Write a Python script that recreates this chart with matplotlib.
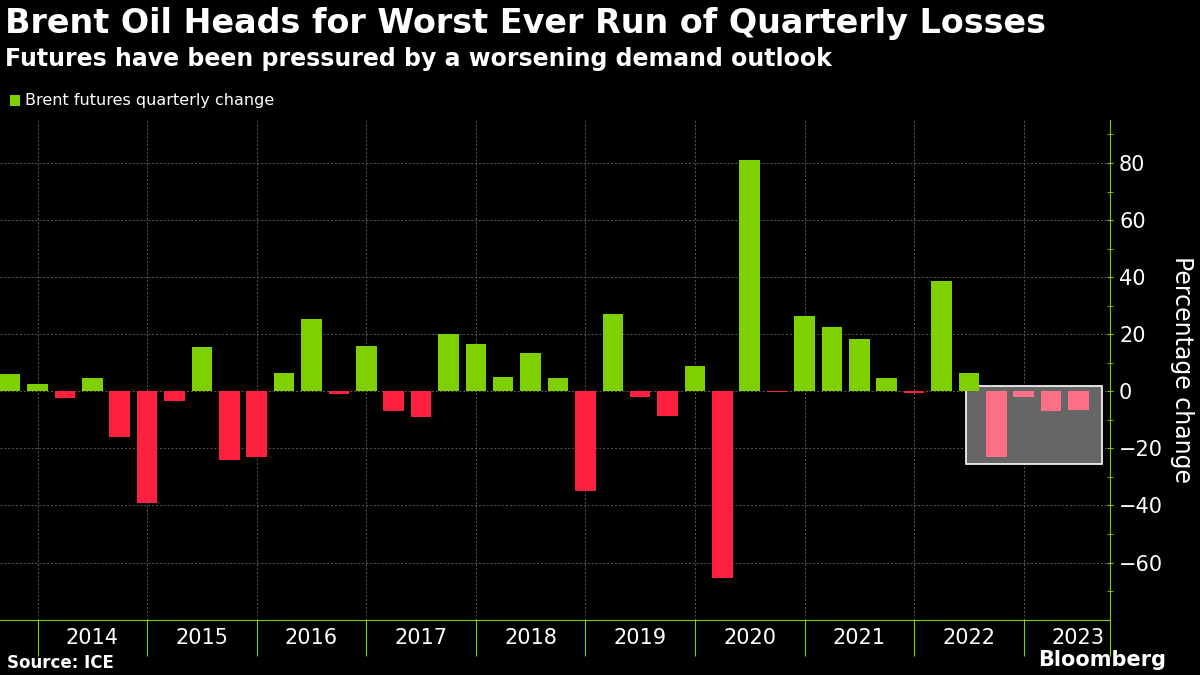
import numpy as np
from matplotlib import pyplot as plt
from matplotlib.patches import Rectangle

# quarterly change, 2013 Q3 .. 2023 Q2
values = [6, 2.5,
          -2.5, 4.5, -16, -39,
          -3.5, 15.5, -24, -23,
          6.5, 25.5, -1, 16,
          -7, -9, 20, 16.5,
          5, 13.5, 4.5, -35,
          27, -2, -8.5, 9,
          -65.5, 81, -0.3, 26.5,
          22.5, 18.5, 4.5, -0.7,
          38.5, 6.5, -23, -2,
          -7, -6.5]
years = [str(y) for y in range(2014, 2024)]
n_highlight = 4

GREEN = '#7ed000'
RED = '#ff2040'
PINK = '#ff6f86'

fig = plt.figure(figsize=(12, 6.75), dpi=100, facecolor='black')
ax = fig.add_axes([0, 0.082, 0.925, 0.74], facecolor='black')

x = np.arange(len(values))
colors = []
for i, v in enumerate(values):
    if i >= len(values) - n_highlight:
        colors.append(PINK)
    else:
        colors.append(GREEN if v >= 0 else RED)

ax.set_xlim(-0.37, 40.15)
ax.set_ylim(-80, 95)

# highlight box behind the last bars
ax.add_patch(Rectangle((34.9, -25.6), 4.95, 27.6, facecolor='#666666',
                       edgecolor='white', linewidth=1.2, zorder=1))
ax.bar(x, values, width=0.75, color=colors, zorder=2)

# grid
for yv in range(-60, 81, 20):
    ax.axhline(yv, color='#5a5a5a', linestyle=(0, (2, 2)), linewidth=0.7, zorder=0)
bounds = [1 + 4 * k for k in range(len(years))]
for b in bounds:
    ax.axvline(b, color='#5a5a5a', linestyle=(0, (2, 2)), linewidth=0.7, zorder=0)

for s in ['top', 'left']:
    ax.spines[s].set_visible(False)
ax.spines['right'].set_color(GREEN)
ax.spines['bottom'].set_color(GREEN)

ax.yaxis.tick_right()
ax.set_yticks(range(-60, 81, 20))
ax.set_yticks(range(-70, 91, 10), minor=True)
ax.tick_params(axis='y', which='both', colors=GREEN, labelcolor='white',
               labelsize=15, length=5, direction='inout', pad=4)
ax.tick_params(axis='y', which='minor', length=4)
ax.yaxis.set_label_position('right')
ax.set_ylabel('Percentage change', color='white', fontsize=17, rotation=270,
              labelpad=22)

ax.set_xticks(bounds + [40.15])
ax.set_xticklabels([])
ax.set_xticks([b + 2 for b in bounds], minor=True)
ax.set_xticklabels(years, minor=True)
ax.tick_params(axis='x', which='major', colors=GREEN, length=26, width=0.8)
ax.tick_params(axis='x', which='minor', length=0, labelcolor='white',
               labelsize=15, pad=6)

fig.text(0.004, 0.965, 'Brent Oil Heads for Worst Ever Run of Quarterly Losses',
         color='white', fontsize=24, fontweight='heavy', va='center')
fig.text(0.004, 0.912, 'Futures have been pressured by a worsening demand outlook',
         color='white', fontsize=17, fontweight='bold', va='center')
fig.patches.append(Rectangle((0.008, 0.843), 0.009, 0.016, facecolor=GREEN,
                             transform=fig.transFigure, figure=fig))
fig.text(0.021, 0.851, 'Brent futures quarterly change', color='white',
         fontsize=11.5, va='center')
fig.text(0.006, 0.018, 'Source: ICE', color='white', fontsize=12,
         fontweight='bold', va='center')
fig.text(0.972, 0.022, 'Bloomberg', color='white', fontsize=15,
         fontweight='bold', va='center', ha='right')

fig.savefig('out.png', facecolor='black')
